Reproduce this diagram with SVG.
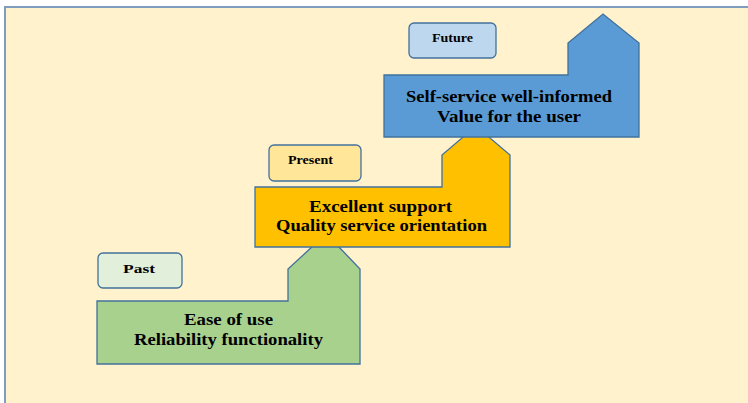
<svg xmlns="http://www.w3.org/2000/svg" width="748" height="403" viewBox="0 0 748 403">
<style>
.step{stroke:#41719C;stroke-width:1.3;stroke-linejoin:miter}
.lbl{stroke:#41719C;stroke-width:1.3}
.t{font-family:"Liberation Serif","Times New Roman",serif;font-weight:bold;fill:#000;text-anchor:middle}
.big{font-size:16.5px}
.small{font-size:12px}
</style>
<rect x="0" y="0" width="748" height="403" fill="#FFFFFF"/>
<rect x="5" y="7" width="760" height="420" fill="#FFF2CC" stroke="#7F9DBF" stroke-width="2"/>

<g id="past-step">
<path class="step" d="M97,301 H288 V269 L313,246 L338,246 L360,269 V364 H97 Z" fill="#A9D18E"/>
<text class="t big" x="228.5" y="325" textLength="89" lengthAdjust="spacingAndGlyphs">Ease of use</text>
<text class="t big" x="228.5" y="345" textLength="189" lengthAdjust="spacingAndGlyphs">Reliability functionality</text>
</g>
<g id="present-step">
<path class="step" d="M255,187 H442 V155 L476,126 L510,155 V247 H255 Z" fill="#FFC000"/>
<text class="t big" x="380.5" y="212" textLength="143" lengthAdjust="spacingAndGlyphs">Excellent support</text>
<text class="t big" x="381.5" y="231" textLength="211" lengthAdjust="spacingAndGlyphs">Quality service orientation</text>
</g>
<g id="future-step">
<path class="step" d="M384,75 H568 V43 L603,14 L639,43 V137 H384 Z" fill="#5B9BD5"/>
<text class="t big" x="509" y="102" textLength="206" lengthAdjust="spacingAndGlyphs">Self-service well-informed</text>
<text class="t big" x="509" y="122" textLength="144" lengthAdjust="spacingAndGlyphs">Value for the user</text>
</g>

<g id="past-label">
<rect class="lbl" x="98" y="253" width="84" height="35" rx="5" fill="#E2EFDA"/>
<text class="t small" x="139" y="273" textLength="32" lengthAdjust="spacingAndGlyphs">Past</text>
</g>
<g id="present-label">
<rect class="lbl" x="269" y="145" width="92" height="36" rx="5" fill="#FFE699"/>
<text class="t small" x="310.5" y="164" textLength="45" lengthAdjust="spacingAndGlyphs">Present</text>
</g>
<g id="future-label">
<rect class="lbl" x="409" y="23" width="87" height="35" rx="5" fill="#BDD7EE"/>
<text class="t small" x="452.5" y="42" textLength="41" lengthAdjust="spacingAndGlyphs">Future</text>
</g>
<g id="connectors"></g>
</svg>
